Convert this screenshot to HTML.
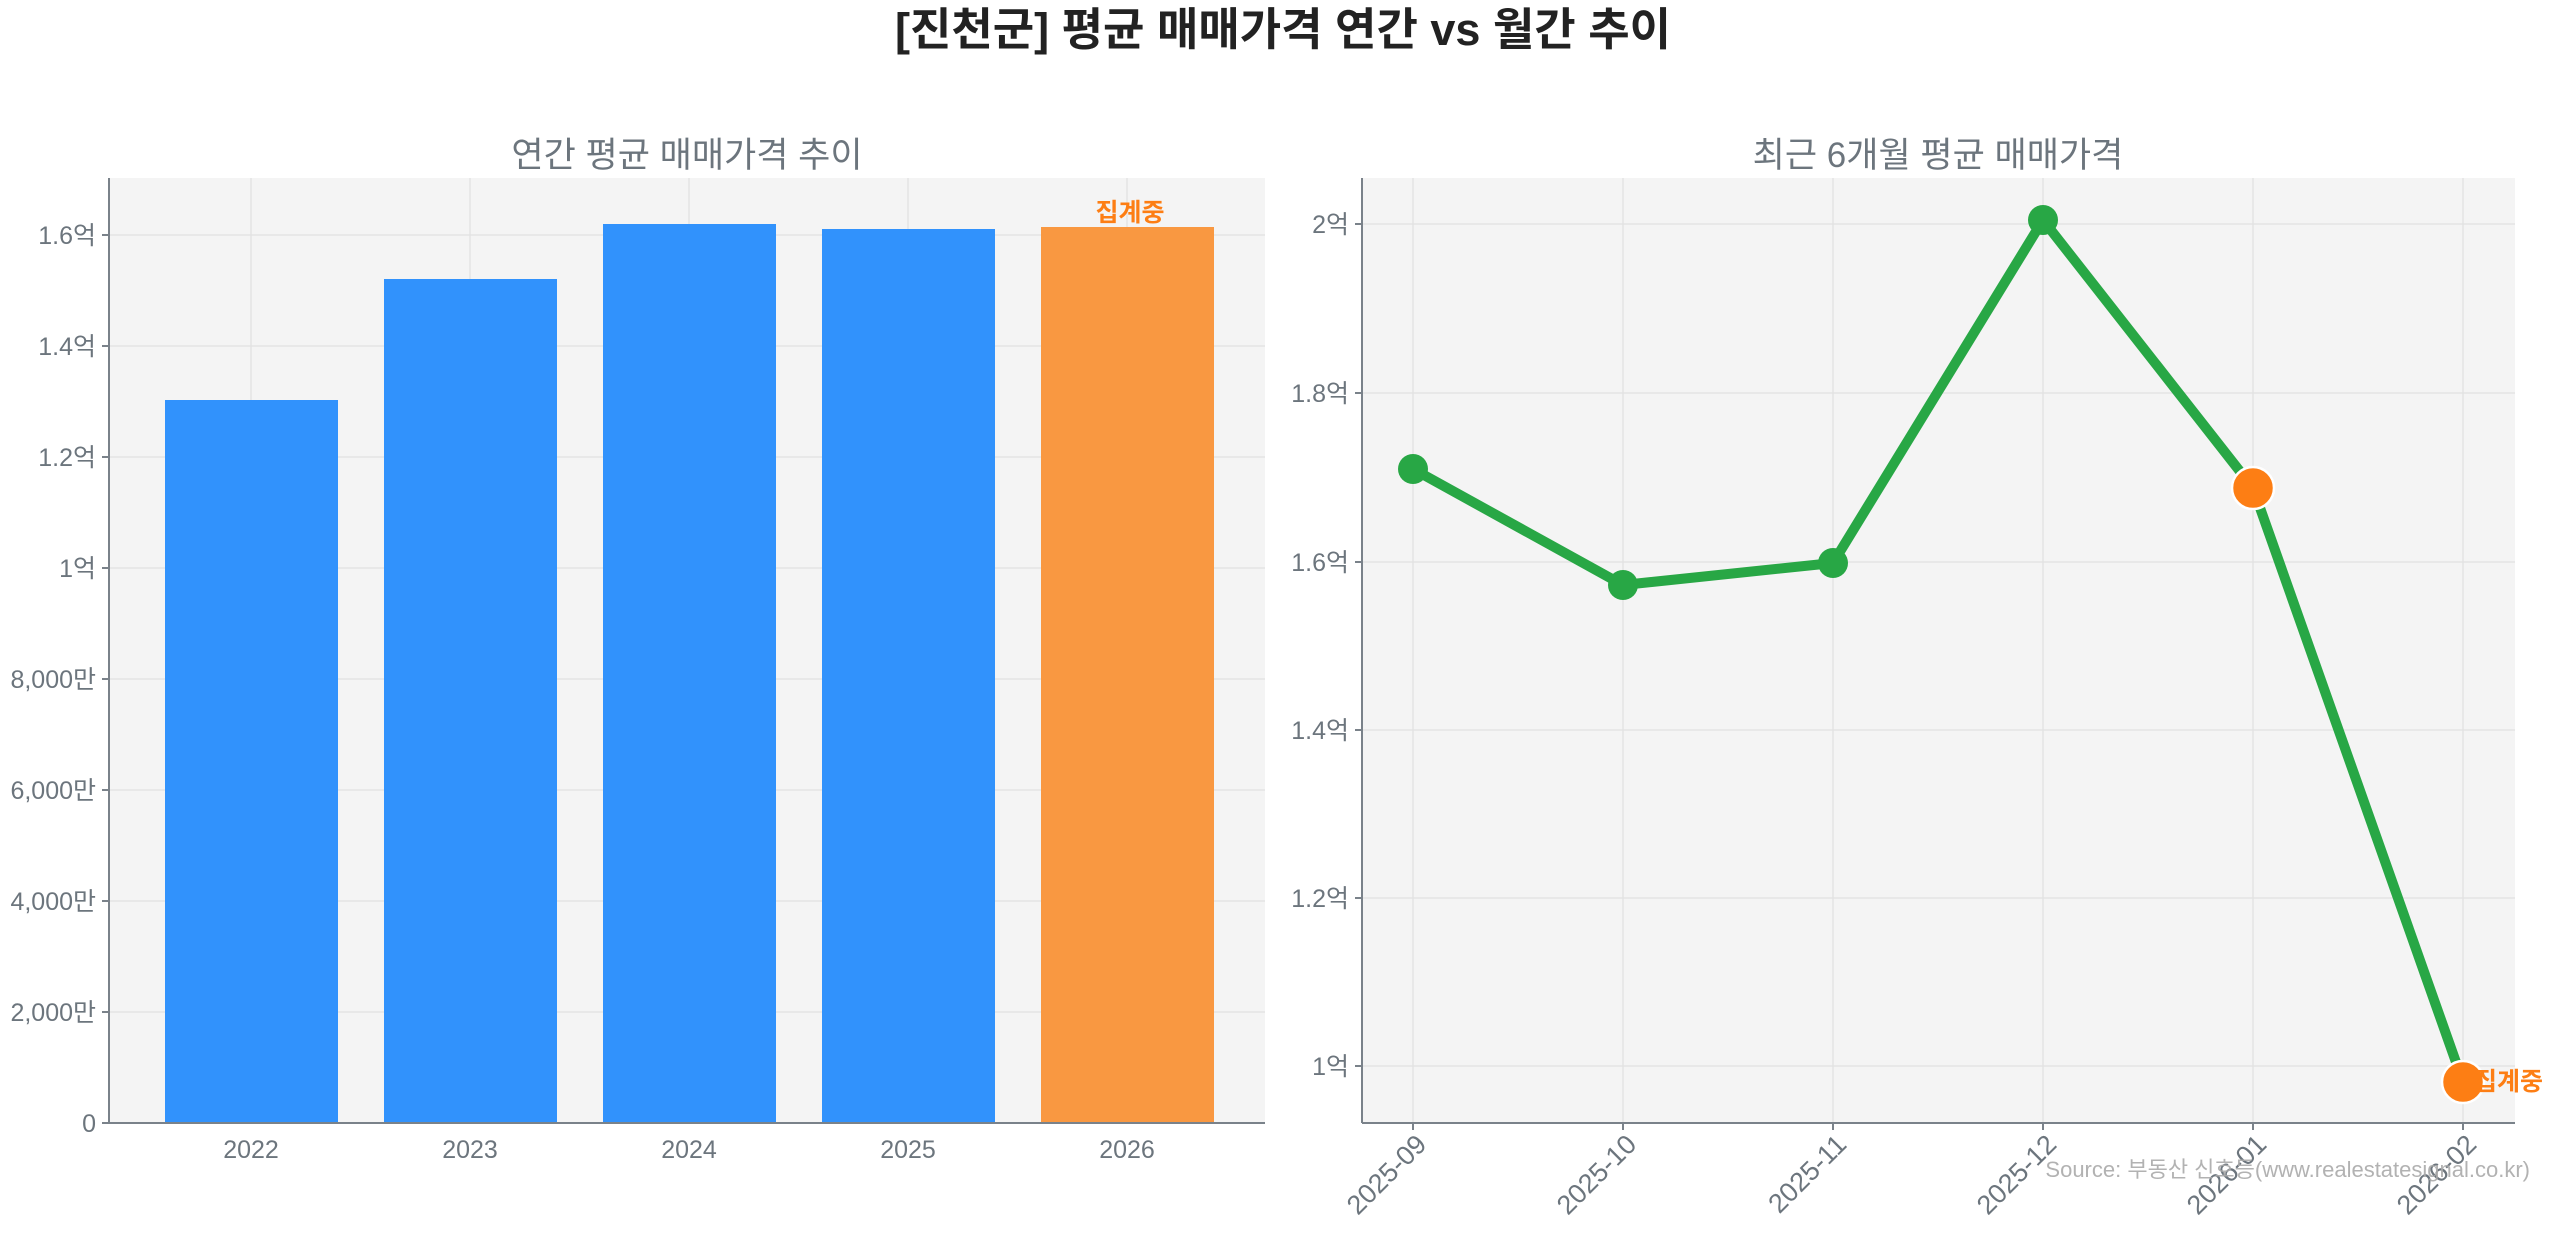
<!DOCTYPE html>
<html><head><meta charset="utf-8"><style>
html,body{margin:0;padding:0;background:#fff;}
svg{display:block;font-family:"Liberation Sans","Noto Sans CJK KR",sans-serif;}
</style></head><body>
<svg width="2560" height="1234" viewBox="0 0 2560 1234" xmlns="http://www.w3.org/2000/svg">
<text x="1283" y="45" text-anchor="middle" font-size="45" font-weight="bold" fill="#222">[진천군] 평균 매매가격 연간 vs 월간 추이</text>

<!-- LEFT -->
<text x="687" y="167" text-anchor="middle" font-size="35" fill="#6c757d">연간 평균 매매가격 추이</text>
<rect x="109" y="178" width="1156" height="945" fill="#f4f4f4"/>
<g stroke="#e3e3e3" stroke-width="1.5">
<line x1="109" x2="1265" y1="1012" y2="1012"/><line x1="109" x2="1265" y1="901" y2="901"/>
<line x1="109" x2="1265" y1="790" y2="790"/><line x1="109" x2="1265" y1="679" y2="679"/>
<line x1="109" x2="1265" y1="568" y2="568"/><line x1="109" x2="1265" y1="457" y2="457"/>
<line x1="109" x2="1265" y1="346" y2="346"/><line x1="109" x2="1265" y1="235" y2="235"/>
<line x1="251" x2="251" y1="178" y2="1123"/><line x1="470" x2="470" y1="178" y2="1123"/>
<line x1="689" x2="689" y1="178" y2="1123"/><line x1="908" x2="908" y1="178" y2="1123"/>
<line x1="1127" x2="1127" y1="178" y2="1123"/>
</g>
<g fill="#3192fc">
<rect x="165" y="400" width="173" height="723"/>
<rect x="384" y="279" width="173" height="844"/>
<rect x="603" y="224" width="173" height="899"/>
<rect x="822" y="229" width="173" height="894"/>
</g>
<rect x="1041" y="227" width="173" height="896" fill="#f99841"/>
<text x="1130" y="221" text-anchor="middle" font-size="25" font-weight="bold" fill="#fd7e14">집계중</text>
<line x1="109" x2="109" y1="178" y2="1123" stroke="#7a828a" stroke-width="2"/>
<line x1="109" x2="1265" y1="1123" y2="1123" stroke="#7a828a" stroke-width="2"/>
<g font-size="25" fill="#6c757d" text-anchor="end">
<text x="96" y="1132">0</text><text x="96" y="1021">2,000만</text><text x="96" y="910">4,000만</text>
<text x="96" y="799">6,000만</text><text x="96" y="688">8,000만</text><text x="96" y="577">1억</text>
<text x="96" y="466">1.2억</text><text x="96" y="355">1.4억</text><text x="96" y="244">1.6억</text>
</g>
<g stroke="#7a828a" stroke-width="2">
<line x1="102" x2="109" y1="1123" y2="1123"/><line x1="102" x2="109" y1="1012" y2="1012"/>
<line x1="102" x2="109" y1="901" y2="901"/><line x1="102" x2="109" y1="790" y2="790"/>
<line x1="102" x2="109" y1="679" y2="679"/><line x1="102" x2="109" y1="568" y2="568"/>
<line x1="102" x2="109" y1="457" y2="457"/><line x1="102" x2="109" y1="346" y2="346"/>
<line x1="102" x2="109" y1="235" y2="235"/>
</g>
<g font-size="25" fill="#6c757d" text-anchor="middle">
<text x="251" y="1158">2022</text><text x="470" y="1158">2023</text><text x="689" y="1158">2024</text>
<text x="908" y="1158">2025</text><text x="1127" y="1158">2026</text>
</g>

<!-- RIGHT -->
<text x="1938" y="167" text-anchor="middle" font-size="35" fill="#6c757d">최근 6개월 평균 매매가격</text>
<rect x="1362" y="178" width="1153" height="945" fill="#f4f4f4"/>
<g stroke="#e3e3e3" stroke-width="1.5">
<line x1="1362" x2="2515" y1="224" y2="224"/><line x1="1362" x2="2515" y1="393" y2="393"/>
<line x1="1362" x2="2515" y1="562" y2="562"/><line x1="1362" x2="2515" y1="730" y2="730"/>
<line x1="1362" x2="2515" y1="898" y2="898"/><line x1="1362" x2="2515" y1="1066" y2="1066"/>
<line x1="1413" x2="1413" y1="178" y2="1123"/><line x1="1623" x2="1623" y1="178" y2="1123"/>
<line x1="1833" x2="1833" y1="178" y2="1123"/><line x1="2043" x2="2043" y1="178" y2="1123"/>
<line x1="2253" x2="2253" y1="178" y2="1123"/><line x1="2463" x2="2463" y1="178" y2="1123"/>
</g>
<polyline points="1413,469 1623,585 1833,563 2043,220 2253,488 2463,1082" fill="none" stroke="#28a745" stroke-width="10" stroke-linejoin="round"/>
<g fill="#28a745">
<circle cx="1413" cy="469" r="15"/><circle cx="1623" cy="585" r="15"/>
<circle cx="1833" cy="563" r="15"/><circle cx="2043" cy="220" r="15"/>
</g>
<circle cx="2253" cy="488" r="21" fill="#fd7e14" stroke="#fff" stroke-width="2.5"/>
<circle cx="2463" cy="1082" r="21" fill="#fd7e14" stroke="#fff" stroke-width="2.5"/>
<text x="2474" y="1090" font-size="25" font-weight="bold" fill="#fd7e14">집계중</text>
<line x1="1362" x2="1362" y1="178" y2="1123" stroke="#7a828a" stroke-width="2"/>
<line x1="1362" x2="2515" y1="1123" y2="1123" stroke="#7a828a" stroke-width="2"/>
<g font-size="25" fill="#6c757d" text-anchor="end">
<text x="1349" y="233">2억</text><text x="1349" y="402">1.8억</text><text x="1349" y="571">1.6억</text>
<text x="1349" y="739">1.4억</text><text x="1349" y="907">1.2억</text><text x="1349" y="1075">1억</text>
</g>
<g stroke="#7a828a" stroke-width="2">
<line x1="1355" x2="1362" y1="224" y2="224"/><line x1="1355" x2="1362" y1="393" y2="393"/>
<line x1="1355" x2="1362" y1="562" y2="562"/><line x1="1355" x2="1362" y1="730" y2="730"/>
<line x1="1355" x2="1362" y1="898" y2="898"/><line x1="1355" x2="1362" y1="1066" y2="1066"/>
<line x1="1413" x2="1413" y1="1123" y2="1130"/><line x1="1623" x2="1623" y1="1123" y2="1130"/>
<line x1="1833" x2="1833" y1="1123" y2="1130"/><line x1="2043" x2="2043" y1="1123" y2="1130"/>
<line x1="2253" x2="2253" y1="1123" y2="1130"/><line x1="2463" x2="2463" y1="1123" y2="1130"/>
</g>
<g font-size="27" fill="#6c757d" text-anchor="end">
<text transform="translate(1428,1146) rotate(-45)">2025-09</text>
<text transform="translate(1638,1146) rotate(-45)">2025-10</text>
<text transform="translate(1848,1146) rotate(-45)">2025-11</text>
<text transform="translate(2058,1146) rotate(-45)">2025-12</text>
<text transform="translate(2268,1146) rotate(-45)">2026-01</text>
<text transform="translate(2478,1146) rotate(-45)">2026-02</text>
</g>
<text x="2530" y="1177" text-anchor="end" font-size="22" fill="#aaaaaa" fill-opacity="0.9">Source: 부동산 신호등(www.realestatesignal.co.kr)</text>
</svg>
</body></html>
